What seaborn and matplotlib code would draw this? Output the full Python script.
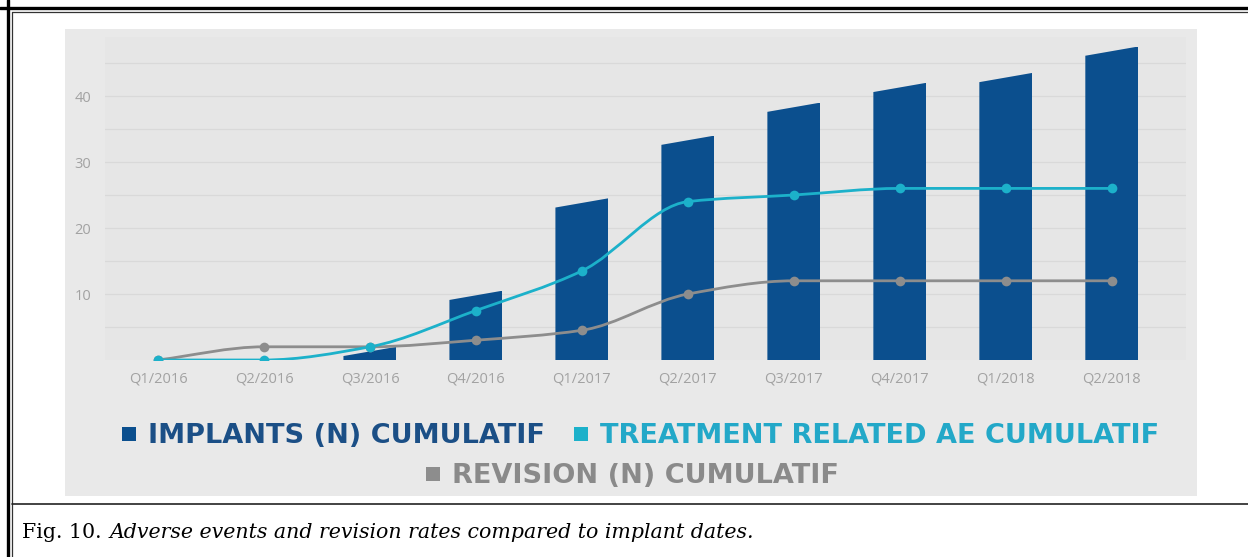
import numpy as np
import matplotlib
matplotlib.use("Agg")
import matplotlib.pyplot as plt
import seaborn as sns
from matplotlib.patches import Polygon, Rectangle, PathPatch
from matplotlib.path import Path
from matplotlib.lines import Line2D

# ---- data -------------------------------------------------------------
quarters = ["Q1/2016", "Q2/2016", "Q3/2016", "Q4/2016", "Q1/2017",
            "Q2/2017", "Q3/2017", "Q4/2017", "Q1/2018", "Q2/2018"]
implants = [0, 0, 2, 10.5, 24.5, 34, 39, 42, 43.5, 47.5]
treatment_ae = [0, 0, 2, 7.5, 13.5, 24, 25, 26, 26, 26]
revisions = [0, 2, 2, 3, 4.5, 10, 12, 12, 12, 12]

series_labels = ["IMPLANTS (N) CUMULATIF",
                 "TREATMENT RELATED AE CUMULATIF",
                 "REVISION (N) CUMULATIF"]
y_tick_values = [5, 10, 15, 20, 25, 30, 35, 40, 45]
y_tick_labels = ["", "10", "", "20", "", "30", "", "40", ""]
caption_lead = "Fig. 10."
caption_text = "Adverse events and revision rates compared to implant dates."

# ---- style ------------------------------------------------------------
BLUE = "#0b4f8e"
CYAN = "#1cb1ca"
GREY = "#8d8d8d"
PANEL = "#e9e9e9"
PLOT_BG = "#e6e6e6"
TICK_GREY = "#a2a2a2"

sns.set_theme(style="white")
plt.rcParams["font.family"] = ["DejaVu Sans"]

W, H = 1248, 557
fig = plt.figure(figsize=(W / 100, H / 100), dpi=100)
fig.patch.set_facecolor("white")


def fx(px):
    return px / W


def fy(py):
    return 1 - py / H


# page frame: heavy outer rule + thin inner rule, caption separator
frame = [
    ((8, 8), (0, H), 2.4, "black"),
    ((12, 12), (12, H), 0.9, "#333333"),
    ((0, W), (8, 8), 2.4, "black"),
    ((12, W), (12, 12), 0.9, "#333333"),
    ((12, W), (503.5, 503.5), 1.2, "#222222"),
]
for xs, ys, lw, c in frame:
    fig.add_artist(Line2D([fx(v) for v in xs], [fy(v) for v in ys],
                          transform=fig.transFigure, lw=lw, color=c))

# grey chart panel
fig.add_artist(Rectangle((fx(65), fy(496)), fx(1197) - fx(65),
                         fy(29) - fy(496), transform=fig.transFigure,
                         facecolor=PANEL, edgecolor="none", zorder=0))

# plot area
y_top = 49.0
px_per_unit = 6.6
ax_left, ax_right, ax_bottom = 105, 1186, 360
ax = fig.add_axes([fx(ax_left), fy(ax_bottom), fx(ax_right - ax_left),
                   (y_top * px_per_unit) / H])
ax.set_facecolor(PLOT_BG)
ax.set_zorder(1)

positions = np.arange(len(quarters))

sns.barplot(x=quarters, y=implants, color=BLUE, width=0.5, linewidth=0,
            saturation=1, ax=ax, zorder=2)

# slanted bar tops: the left corner sits a little lower than the right one
slant = 1.4
for bar in ax.patches:
    x0, w, h = bar.get_x(), bar.get_width(), bar.get_height()
    clip = Polygon([(x0, 0), (x0 + w, 0), (x0 + w, h),
                    (x0, max(h - slant, 0))], closed=True,
                   transform=ax.transData)
    bar.set_clip_path(clip)


def smooth_path(xs, ys):
    """Monotone cubic (PCHIP-style) path through the points."""
    x = np.asarray(xs, float)
    y = np.asarray(ys, float)
    n = len(x)
    h = np.diff(x)
    d = np.diff(y) / h
    m = np.zeros(n)
    m[0], m[-1] = d[0], d[-1]
    for i in range(1, n - 1):
        if d[i - 1] * d[i] <= 0:
            m[i] = 0.0
        else:
            w1 = 2 * h[i] + h[i - 1]
            w2 = h[i] + 2 * h[i - 1]
            m[i] = (w1 + w2) / (w1 / d[i - 1] + w2 / d[i])
    verts = [(x[0], y[0])]
    codes = [Path.MOVETO]
    for i in range(n - 1):
        dx = h[i] / 3.0
        verts += [(x[i] + dx, y[i] + m[i] * dx),
                  (x[i + 1] - dx, y[i + 1] - m[i + 1] * dx),
                  (x[i + 1], y[i + 1])]
        codes += [Path.CURVE4] * 3
    return Path(verts, codes)


for values, col in [(revisions, GREY), (treatment_ae, CYAN)]:
    sns.lineplot(x=positions, y=values, ax=ax, color=col, marker="o",
                 markersize=7, markeredgewidth=0, linewidth=2, sort=False,
                 zorder=4)
    line = ax.lines[-1]
    xd, yd = line.get_data()
    line.set_linestyle("None")
    ax.add_patch(PathPatch(smooth_path(xd, yd), facecolor="none",
                           edgecolor=col, lw=2, zorder=3,
                           capstyle="round", joinstyle="round"))

ax.set_xlim(-0.5, 9.7)
ax.set_ylim(0, y_top)
ax.set_xticks(positions)
ax.set_xticklabels(quarters)
ax.set_yticks(y_tick_values)
ax.set_yticklabels(y_tick_labels)
ax.set_xlabel("")
ax.set_ylabel("")
ax.yaxis.grid(True, color="#d9d9d9", lw=0.9)
ax.set_axisbelow(True)
ax.tick_params(axis="both", length=0, colors=TICK_GREY, labelsize=10.5)
ax.tick_params(axis="x", pad=8)
ax.tick_params(axis="y", pad=10)
for lab in ax.get_xticklabels() + ax.get_yticklabels():
    lab.set_fontfamily("Open Sans")
    lab.set_color(TICK_GREY)
for sp in ax.spines.values():
    sp.set_visible(False)

# legend: two entries on the first row, one centred beneath
def handle(col):
    return Line2D([], [], marker="s", linestyle="None", markersize=10.5,
                  markerfacecolor=col, markeredgewidth=0)


legend_font = {"family": "DejaVu Sans", "weight": "bold", "size": 19.5}
leg1 = fig.legend([handle(BLUE), handle(CYAN)], series_labels[:2],
                  loc="center", bbox_to_anchor=(fx(640), fy(436)), ncol=2,
                  frameon=False, prop=legend_font, handlelength=0.6,
                  handletextpad=0.42, columnspacing=1.0, borderpad=0)
leg2 = fig.legend([handle(GREY)], series_labels[2:], loc="center",
                  bbox_to_anchor=(fx(632), fy(476)), frameon=False,
                  prop=legend_font, handlelength=0.6, handletextpad=0.42,
                  borderpad=0)
for txt, col in zip(leg1.get_texts(), ["#1b4f86", "#23a8c8"]):
    txt.set_color(col)
leg2.get_texts()[0].set_color("#8a8a8a")

# caption
lead = fig.text(fx(22), fy(538), caption_lead, fontsize=14.8,
                family="DejaVu Serif", color="black", va="baseline")
fig.canvas.draw()
bb = lead.get_window_extent()
fig.text(fx(bb.x1 + 8), fy(538), caption_text, fontsize=14.8,
         family="DejaVu Serif", style="italic", color="black",
         va="baseline")

fig.savefig("out.png", dpi=100, facecolor="white")
